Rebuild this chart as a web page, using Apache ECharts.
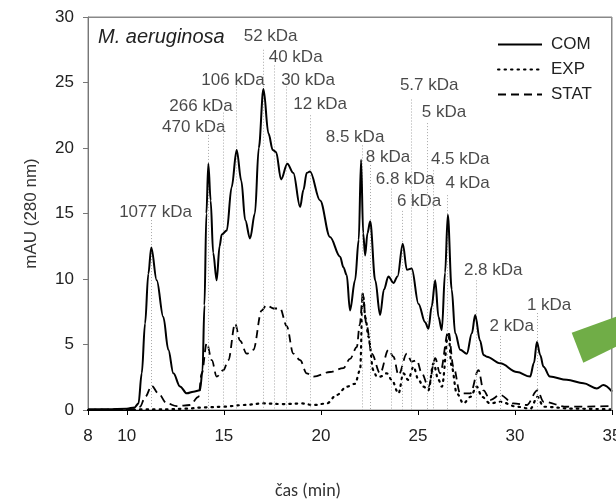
<!DOCTYPE html>
<html>
<head>
<meta charset="utf-8">
<script src="https://cdn.jsdelivr.net/npm/echarts@6/dist/echarts.min.js"></script>
<style>
html,body{margin:0;padding:0;background:#fff;}
#chart{width:616px;height:499px;}
</style>
</head>
<body>
<div id="chart"></div>
<script>
// ---- data (time in min, absorbance in mAU) ----
var comTime = [8.0,9.0,10.0,10.4,10.6,10.77,10.94,11.11,11.26,11.54,11.88,12.14,12.4,12.74,13.09,13.43,13.77,13.9,14.0,14.1,14.2,14.32,14.45,14.63,14.78,14.89,15.15,15.4,15.66,15.9,16.1,16.35,16.6,16.8,17.04,17.3,17.52,17.69,17.95,18.27,18.58,18.93,19.1,19.27,19.44,19.96,20.47,20.99,21.16,21.33,21.5,21.76,21.95,22.07,22.18,22.28,22.4,22.54,22.8,23.05,23.25,23.48,23.74,23.95,24.22,24.43,24.68,25.03,25.37,25.54,25.71,25.89,26.06,26.23,26.4,26.54,26.74,26.92,27.18,27.52,27.78,27.95,28.2,28.38,28.55,29.24,30.1,30.78,30.98,31.13,31.3,31.47,31.8,32.67,33.53,34.22,34.56,35.0];
var comValues = [0.05,0.05,0.1,0.2,0.5,2.8,6.6,10.4,12.4,9.9,7.1,4.6,2.8,1.8,1.27,1.4,1.5,3.0,8,15,18.8,16,12,9.9,12.5,13.4,13.7,17,19.85,17.5,14.5,13.1,15,20,24.5,21.1,19.85,19.7,17.6,18.8,18.1,15.5,16.8,18.1,18.2,16.0,13.2,11.7,10.9,10.3,7.6,9.9,13,19.1,13.5,11.8,13.5,14.4,9.9,7.25,9.2,10.2,9.7,10.2,12.7,10.7,10.8,8.1,6.7,6.2,7.9,9.9,7.1,6.1,10.5,14.9,9.2,5.85,4.6,4.3,5.85,7.25,5.3,4.2,4.07,3.56,2.9,2.55,3.6,5.2,4.2,3.3,2.55,2.3,2.04,1.65,1.9,1.4];

var expTime = [8,12,13,14,15,16,17,18,19,19.62,20.3,20.82,21.33,21.76,22.02,22.16,22.3,22.45,22.7,22.88,23.05,23.4,23.65,24.0,24.25,24.5,24.77,25.03,25.28,25.54,25.8,26.06,26.23,26.57,26.74,27.0,27.35,27.7,28.03,28.3,28.72,29.24,30.1,30.8,31.16,31.47,33,35];
var expValues = [0,0.05,0.1,0.2,0.25,0.38,0.5,0.45,0.5,0.38,0.5,1.15,1.78,2.0,3.05,8.9,7,5.6,3.05,2.55,2.55,2.8,2.3,1.27,2.8,2.3,3.3,2.3,1.78,1.5,3.56,2.3,1.78,5.85,3.3,1.27,0.5,1.0,1.78,1.0,0.5,0.63,0.25,0.1,1.0,0.25,0.1,0.05];

var statTime = [8.0,10.4,10.68,10.95,11.28,11.62,12.06,12.57,13.26,13.69,13.86,14.12,14.38,14.63,14.98,15.23,15.58,15.83,16.18,16.52,16.95,17.2,17.55,17.9,18.24,18.58,18.93,19.27,19.62,20.47,21.16,21.5,21.85,22.0,22.16,22.35,22.62,23.05,23.48,23.74,24.0,24.43,24.68,24.94,25.2,25.54,25.89,26.14,26.57,26.83,27.18,27.7,28.12,28.38,28.72,29.24,29.92,30.6,31.16,31.47,32.67,35];
var statValues = [0.0,0.05,0.25,1.0,1.85,1.27,0.5,0.3,0.38,1.0,2.8,5.1,3.8,2.55,3.05,3.8,6.6,5.3,4.3,4.6,7.6,8.0,7.75,7.75,6.4,4.3,3.8,2.8,2.55,2.9,3.2,3.9,4.8,6.5,8.8,6.5,4.3,2.8,4.6,4.07,2.67,4.3,3.7,3.8,2.8,1.78,3.95,2.8,6.0,3.3,1.27,1.27,3.05,1.5,0.76,1.15,0.5,0.38,1.5,0.63,0.25,0.3];

// molecular-weight markers: marker time, top of marker line, label anchor (data units)
var markerNames = ['1077 kDa','470 kDa','266 kDa','106 kDa','52 kDa','40 kDa','30 kDa','12 kDa','8.5 kDa','8 kDa','6.8 kDa','6 kDa','5.7 kDa','5 kDa','4.5 kDa','4 kDa','2.8 kDa','2 kDa','1 kDa'];
var markerTime = [11.26,14.2,14.98,15.66,17.04,17.6,18.24,19.44,22.14,22.54,23.62,24.2,24.65,25.46,25.8,26.52,28.0,29.24,31.13];
var markerTop = [14.5,21.0,22.7,24.7,27.5,26.3,24.7,22.5,20.2,18.7,16.9,15.2,23.7,21.9,18.3,16.4,9.9,5.65,7.4];
var labelTime = [11.48,13.45,13.82,15.47,17.41,18.7,19.34,19.96,21.76,23.46,24.34,25.06,25.58,26.34,27.18,27.56,28.88,29.83,31.76];
var labelValue = [15.1,21.6,23.2,25.2,28.55,26.9,25.2,23.3,20.8,19.3,17.6,15.9,24.8,22.7,19.1,17.3,10.7,6.36,8.0];

var xTickValues = [8,10,15,20,25,30,35];
var xMin = 8, xMax = 35, yMin = 0, yMax = 30, yStep = 5;
var seriesNames = ['COM','EXP','STAT'];

function pairs(a,b){ return a.map(function(t,i){ return [t,b[i]]; }); }

var markLines = markerTime.map(function(t,i){
  return [{coord:[t, markerTop[i]]},{coord:[t, 0]}];
});
var labelData = labelTime.map(function(t,i){
  return {name: markerNames[i], value:[t, labelValue[i]]};
});

var FONT = '"Liberation Sans", Arial, sans-serif';
var chart = echarts.init(document.getElementById('chart'), null, {renderer:'canvas'});
chart.setOption({
  animation:false,
  backgroundColor:'#fff',
  textStyle:{fontFamily:FONT},
  title:[
    {text:'M. aeruginosa', left:93, top:22, textStyle:{fontFamily:FONT, fontStyle:'italic', fontWeight:'normal', fontSize:20, color:'#222'}},
    {text:'čas (min)', left:270, top:477, textStyle:{fontFamily:'Carlito, "Open Sans", sans-serif', fontWeight:'normal', fontSize:18, color:'#333'}}
  ],
  legend:{
    orient:'vertical', left:492, top:31, itemWidth:44, itemHeight:14, itemGap:8,
    itemStyle:{opacity:0},
    textStyle:{fontFamily:FONT, fontSize:17, color:'#222', padding:[0,0,0,4]},
    data:seriesNames
  },
  grid:{left:88, top:17, right:4, bottom:89, outerBoundsMode:'none', containLabel:false,
        show:true, borderColor:'#888', borderWidth:1, backgroundColor:'transparent'},
  xAxis:{
    type:'value', min:xMin, max:xMax,
    axisLine:{show:true, onZero:false, lineStyle:{color:'#000', width:1}},
    axisTick:{show:true, length:5, customValues:xTickValues, lineStyle:{color:'#000'}},
    axisLabel:{customValues:xTickValues, fontSize:17, color:'#222', margin:18, fontFamily:FONT},
    splitLine:{show:false}
  },
  yAxis:{
    type:'value', min:yMin, max:yMax, interval:yStep,
    name:'mAU (280 nm)', nameLocation:'middle', nameGap:48,
    nameTextStyle:{fontSize:17, color:'#333', fontFamily:FONT},
    axisLine:{show:true, lineStyle:{color:'#777'}},
    axisTick:{show:true, length:5, lineStyle:{color:'#777'}},
    axisLabel:{fontSize:17, color:'#222', margin:14, fontFamily:FONT},
    splitLine:{show:false}
  },
  series:[
    {name:'markers', type:'scatter', data:labelData, symbolSize:0, silent:true, z:1,
     label:{show:true, position:'inside', formatter:'{b}', fontSize:17, color:'#1a1a1a', fontFamily:FONT},
     markLine:{silent:true, symbol:['none','none'], label:{show:false},
       lineStyle:{color:'#a8a8a8', type:[1,2], width:1}, data:markLines}},
    {name:'COM', type:'line', data:pairs(comTime, comValues), showSymbol:false, symbol:'none',
     smooth:0.35, smoothMonotone:'x', lineStyle:{color:'#000', width:2}, itemStyle:{color:'#000'}, z:5},
    {name:'EXP', type:'line', data:pairs(expTime, expValues), showSymbol:false, symbol:'none',
     smooth:0.35, smoothMonotone:'x', lineStyle:{color:'#000', width:2.2, type:[1.5,5], cap:'round'}, itemStyle:{color:'#000'}, z:4},
    {name:'STAT', type:'line', data:pairs(statTime, statValues), showSymbol:false, symbol:'none',
     smooth:0.35, smoothMonotone:'x', lineStyle:{color:'#000', width:1.8, type:[8,5]}, itemStyle:{color:'#000'}, z:4}
  ]
});

// plot frame (top and right edges) placed through the chart's own scales, plus the green decoration
var pTL = chart.convertToPixel({gridIndex:0}, [xMin, yMax]);
var pBR = chart.convertToPixel({gridIndex:0}, [xMax, yMin]);
var L = Math.round(pTL[0]) + 0.5, T = Math.round(pTL[1]) + 0.5, R = Math.round(pBR[0]) - 0.5, B = Math.round(pBR[1]) + 0.5;
chart.setOption({
  graphic:[
    {type:'line', z:50, silent:true, shape:{x1:L, y1:T, x2:R, y2:T}, style:{stroke:'#888', lineWidth:1}},
    {type:'line', z:50, silent:true, shape:{x1:R, y1:T, x2:R, y2:B}, style:{stroke:'#888', lineWidth:1}},
    {type:'polygon', z:100, silent:true, shape:{points:[[571.7,332.7],[616,316.7],[616,346.7],[583.3,362.7]]}, style:{fill:'#70AD47'}}
  ]
});
</script>
</body>
</html>
